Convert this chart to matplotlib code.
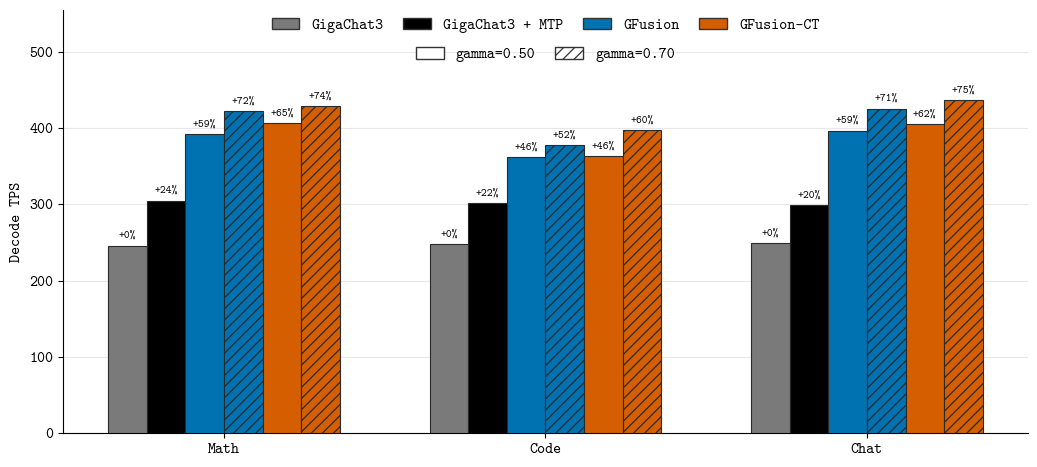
import numpy as np
import matplotlib
matplotlib.use("Agg")
import matplotlib.pyplot as plt
from matplotlib.patches import Patch

plt.rcParams["font.family"] = ["cmtt10", "DejaVu Sans Mono"]
plt.rcParams["axes.unicode_minus"] = False
plt.rcParams["hatch.linewidth"] = 0.9

tasks = ["Math", "Code", "Chat"]
series = ["GigaChat3", "GigaChat3 + MTP", "GFusion g0.50", "GFusion g0.70",
          "GFusion-CT g0.50", "GFusion-CT g0.70"]

# Decode TPS
gigachat3 = [246, 248, 249]
gigachat3_mtp = [305, 302, 299]
gfusion_050 = [392, 362, 397]
gfusion_070 = [423, 378, 426]
gfusion_ct_050 = [407, 363, 405]
gfusion_ct_070 = [429, 398, 437]

# speedup labels shown above the bars
pct_gigachat3 = [0, 0, 0]
pct_mtp = [24, 22, 20]
pct_gf_050 = [59, 46, 59]
pct_gf_070 = [72, 52, 71]
pct_ct_050 = [65, 46, 62]
pct_ct_070 = [74, 60, 75]

values = [gigachat3, gigachat3_mtp, gfusion_050, gfusion_070, gfusion_ct_050, gfusion_ct_070]
pcts = [pct_gigachat3, pct_mtp, pct_gf_050, pct_gf_070, pct_ct_050, pct_ct_070]

GRAY = "#7a7a7a"
BLACK = "#000000"
BLUE = "#0072b2"
ORANGE = "#d55e00"
colors = [GRAY, BLACK, BLUE, BLUE, ORANGE, ORANGE]
hatches = [None, None, None, "///", None, "///"]

fig, ax = plt.subplots(figsize=(10.37, 4.67), dpi=100)
fig.subplots_adjust(left=0.061, right=0.991, bottom=0.073, top=0.978)

x = np.arange(len(tasks))
width = 0.12
for i, (vals, pc) in enumerate(zip(values, pcts)):
    pos = x + (i - 2.5) * width
    ax.bar(pos, vals, width, color=colors[i], edgecolor="#2a2a2a",
           linewidth=0.8, hatch=hatches[i], zorder=3)
    for xp, v, p in zip(pos, vals, pc):
        ax.text(xp, v + 6, "+%d%%" % p, ha="center", va="bottom", fontsize=8)

ax.set_xticks(x)
ax.set_xticklabels(tasks, fontsize=11)
ax.set_xlim(-0.5, 2.5)
ax.set_ylim(0, 555)
ax.set_yticks(range(0, 501, 100))
ax.tick_params(axis="y", labelsize=11)
ax.set_ylabel("Decode TPS", fontsize=11)
ax.grid(axis="y", color="#e8e8e8", linewidth=0.8, zorder=0)
ax.set_axisbelow(True)
ax.spines["top"].set_visible(False)
ax.spines["right"].set_visible(False)

h1 = [Patch(facecolor=GRAY, edgecolor="#333333", label="GigaChat3"),
      Patch(facecolor=BLACK, edgecolor="#333333", label="GigaChat3 + MTP"),
      Patch(facecolor=BLUE, edgecolor="#333333", label="GFusion"),
      Patch(facecolor=ORANGE, edgecolor="#333333", label="GFusion-CT")]
leg1 = ax.legend(handles=h1, loc="upper center", bbox_to_anchor=(0.5, 1.015),
                 ncol=4, frameon=False, fontsize=11, handlelength=1.8,
                 handleheight=0.8, columnspacing=1.3)
ax.add_artist(leg1)
h2 = [Patch(facecolor="white", edgecolor="#333333", label="gamma=0.50"),
      Patch(facecolor="white", edgecolor="#333333", hatch="///", label="gamma=0.70")]
ax.legend(handles=h2, loc="upper center", bbox_to_anchor=(0.5, 0.945),
          ncol=2, frameon=False, fontsize=11, handlelength=1.8,
          handleheight=0.8, columnspacing=1.3)

fig.savefig("out.png", dpi=100)
